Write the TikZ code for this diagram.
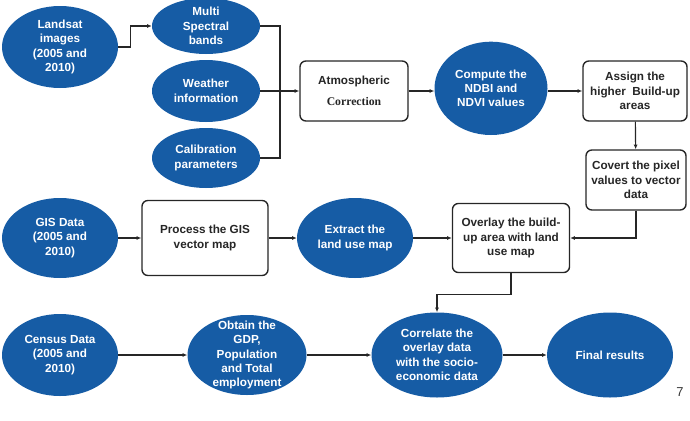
\documentclass[tikz,border=0pt]{standalone}
\usepackage{fontspec}
\setmainfont{Liberation Sans}
\newfontfamily\corrfont{Liberation Serif}
\usetikzlibrary{shapes.geometric,arrows.meta,calc}
\definecolor{blobblue}{RGB}{22,92,165}

\begin{document}
\begin{tikzpicture}[
    blob/.style={ellipse, fill=blobblue, draw=none, text=white, align=center, inner sep=-12pt,
        font=\bfseries\fontsize{10}{12.3}\selectfont},
    box/.style={draw=black!85, line width=1.2pt, rounded corners=5pt, fill=white, align=center,
        text=black!85, inner sep=0pt, font=\bfseries\fontsize{10}{12.3}\selectfont},
    link/.style={draw=black!85, line width=1pt},
    arr/.style={link, -{Latex[length=4pt,width=3.5pt]}}
]

\useasboundingbox (0,0) rectangle (20.7,12.6);

% Row 1: Landsat branch
\node[blob, minimum width=3.48cm, minimum height=2.46cm] (land) at (1.8, 11.19) {Landsat\\images\\(2005 and\\2010)};
\node[blob, minimum width=3.24cm, minimum height=1.68cm] (multi) at (6.18, 11.82) {Multi\\Spectral\\bands};
\node[blob, minimum width=3.24cm, minimum height=1.86cm] (weather) at (6.18, 9.87) {Weather\\information};
\node[blob, minimum width=3.24cm, minimum height=1.8cm] (calib) at (6.18, 7.86) {Calibration\\parameters};

\node[box, minimum width=3.24cm, minimum height=1.8cm] (atmo) at (10.62, 9.87) {Atmospheric\\[6pt]{\corrfont\bfseries Correction}};
\node[blob, minimum width=3.39cm, minimum height=2.8cm] (compute) at (14.73, 9.95) {Compute the\\NDBI and\\NDVI values};
\node[box, minimum width=3.12cm, minimum height=1.8cm] (assign) at (19.05, 9.87) {Assign the\\higher\ \ Build-up\\areas};
\node[box, minimum width=3.0cm, minimum height=1.8cm] (covert) at (19.08, 7.2) {Covert the pixel\\values to vector\\data};

% Row 2: GIS branch
\node[blob, minimum width=3.48cm, minimum height=2.4cm] (gis) at (1.8, 5.46) {GIS Data\\(2005 and\\2010)};
\node[box, minimum width=3.78cm, minimum height=2.25cm] (process) at (6.15, 5.46) {Process the GIS\\vector map};
\node[blob, minimum width=3.48cm, minimum height=2.4cm] (extract) at (10.65, 5.46) {Extract the\\land use map};
\node[box, minimum width=3.51cm, minimum height=2.07cm] (overlay) at (15.33, 5.46) {Overlay the build-\\up area with land\\use map};

% Row 3: Census branch
\node[blob, minimum width=3.48cm, minimum height=2.46cm] (census) at (1.8, 1.95) {Census Data\\(2005 and\\2010)};
\node[blob, minimum width=3.57cm, minimum height=2.4cm] (obtain) at (7.41, 1.95) {Obtain the\\GDP,\\Population\\and Total\\employment};
\node[blob, minimum width=3.93cm, minimum height=2.55cm] (correl) at (13.11, 1.95) {Correlate the\\overlay data\\with the socio-\\economic data};
\node[blob, minimum width=3.78cm, minimum height=2.55cm] (final) at (18.3, 1.95) {Final results};

% Page number
\node[text=black!80, font=\fontsize{11}{13}\selectfont] (pagenum) at (20.4, 0.84) {7};

% Connectors
\coordinate (bus) at (8.4, 9.87);
\draw[arr] (land.east) -- ++(0.36,0) |- (multi.west);
\draw[link] (multi.east) -| (bus) |- (calib.east);
\draw[arr] (weather.east) -- (atmo.west);
\draw[arr] (atmo.east) -- (atmo.east -| compute.west);
\draw[arr] (compute.east |- assign.west) -- (assign.west);
\draw[arr] (assign) -- (covert);
\draw[arr] (covert.south) |- (overlay.east);

\draw[arr] (gis) -- (process);
\draw[arr] (process) -- (extract);
\draw[arr] (extract) -- (overlay);
\draw[arr] (overlay.south) -- ++(0,-0.63) -| (correl.north);

\draw[arr] (census) -- (obtain);
\draw[arr] (obtain) -- (correl);
\draw[arr] (correl) -- (final);

\end{tikzpicture}
\end{document}
